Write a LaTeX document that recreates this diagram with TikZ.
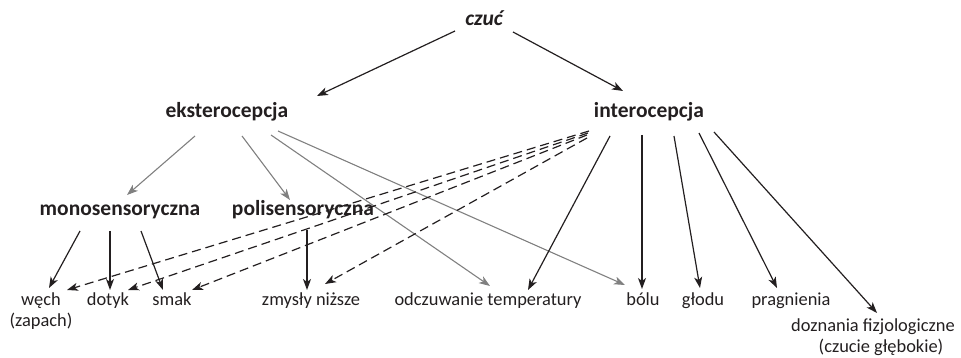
\documentclass[tikz,border=0pt]{standalone}
\usepackage{fontspec}
\setmainfont{Carlito}
\usetikzlibrary{arrows.meta}
\definecolor{ink}{HTML}{231F20}
\definecolor{greyline}{HTML}{808080}
\begin{document}
\begin{tikzpicture}[x=1pt,y=-1pt,
  every node/.style={text=ink, inner sep=0pt, anchor=base},
  head/.style={font=\fontsize{21.5}{24}\selectfont\bfseries},
  leaf/.style={font=\fontsize{18.4}{21}\selectfont, align=center},
  blackarrow/.style={draw=ink, line width=1.2pt, -{Stealth[length=11pt,width=8pt,inset=3pt]}},
  greyarrow/.style={draw=greyline, line width=1.1pt, -{Stealth[length=11pt,width=8pt,inset=3pt]}},
  dasharrow/.style={blackarrow, dash pattern=on 9pt off 5pt}]
\useasboundingbox (0,0) rectangle (961,358);

% category labels
\node[head] (czuc) at (484,26) {\itshape czuć};
\node[head] (ekst) at (227,118) {eksterocepcja};
\node[head] (inter) at (649,118) {interocepcja};
\node[head] (mono) at (120,215) {monosensoryczna};
\node[head] (poli) at (303,215) {polisensoryczna};

% leaf labels (two-line nodes sit on the baseline of their last line)
\node[leaf] (wech) at (41,326) {węch\\(zapach)};
\node[leaf] (dotyk) at (108,305) {dotyk};
\node[leaf] (smak) at (172,305) {smak};
\node[leaf] (zmysly) at (311,305) {zmysły niższe};
\node[leaf] (odcz) at (488,305) {odczuwanie temperatury};
\node[leaf] (bolu) at (643,305) {bólu};
\node[leaf] (glodu) at (703,305) {głodu};
\node[leaf] (pragn) at (791,305) {pragnienia};
\node[leaf] (dozn) at (873,352) {doznania fizjologiczne\\\hspace*{16pt}(czucie głębokie)};

% top split
\draw[blackarrow] ([shift={(-29,5)}]czuc.base) -- ([shift={(90,-22)}]ekst.base);
\draw[blackarrow] ([shift={(29,6)}]czuc.base) -- ([shift={(-26,-27)}]inter.base);

% exteroception branches
\draw[greyarrow] ([shift={(-32,18)}]ekst.base) -- ([shift={(7,-20)}]mono.base);
\draw[greyarrow] ([shift={(15,18)}]ekst.base) -- ([shift={(-13,-15)}]poli.base);
\draw[greyarrow] ([shift={(44,17)}]ekst.base) -- ([shift={(2,-19)}]odcz.base);
\draw[greyarrow] ([shift={(51,13)}]ekst.base) -- ([shift={(-18,-20)}]bolu.base);

% interoception, dashed links to the senses
\draw[dasharrow] ([shift={(-60,13)}]inter.base) -- ([shift={(26,-36)}]wech.base);
\draw[dasharrow] ([shift={(-61,15)}]inter.base) -- ([shift={(20,-15)}]dotyk.base);
\draw[dasharrow] ([shift={(-62,17)}]inter.base) -- ([shift={(20,-15)}]smak.base);
\draw[dasharrow] ([shift={(-62,20)}]inter.base) -- ([shift={(14,-21)}]zmysly.base);

% interoception, direct links
\draw[blackarrow] ([shift={(-39,18)}]inter.base) -- ([shift={(40,-15)}]odcz.base);
\draw[blackarrow] ([shift={(-7,17)}]inter.base) -- ([shift={(-1,-16)}]bolu.base);
\draw[blackarrow] ([shift={(25,18)}]inter.base) -- ([shift={(-3,-17)}]glodu.base);
\draw[blackarrow] ([shift={(50,15)}]inter.base) -- ([shift={(-14,-17)}]pragn.base);
\draw[blackarrow] ([shift={(65,14)}]inter.base) -- ([shift={(4,-39)}]dozn.base);

% mono- and polysensory senses
\draw[blackarrow] ([shift={(-40,16)}]mono.base) -- ([shift={(8,-38)}]wech.base);
\draw[blackarrow] ([shift={(-10,16)}]mono.base) -- ([shift={(2,-15)}]dotyk.base);
\draw[blackarrow] ([shift={(21,16)}]mono.base) -- ([shift={(-9,-15)}]smak.base);
\draw[blackarrow] ([shift={(4,15)}]poli.base) -- ([shift={(-4,-15)}]zmysly.base);
\end{tikzpicture}
\end{document}
